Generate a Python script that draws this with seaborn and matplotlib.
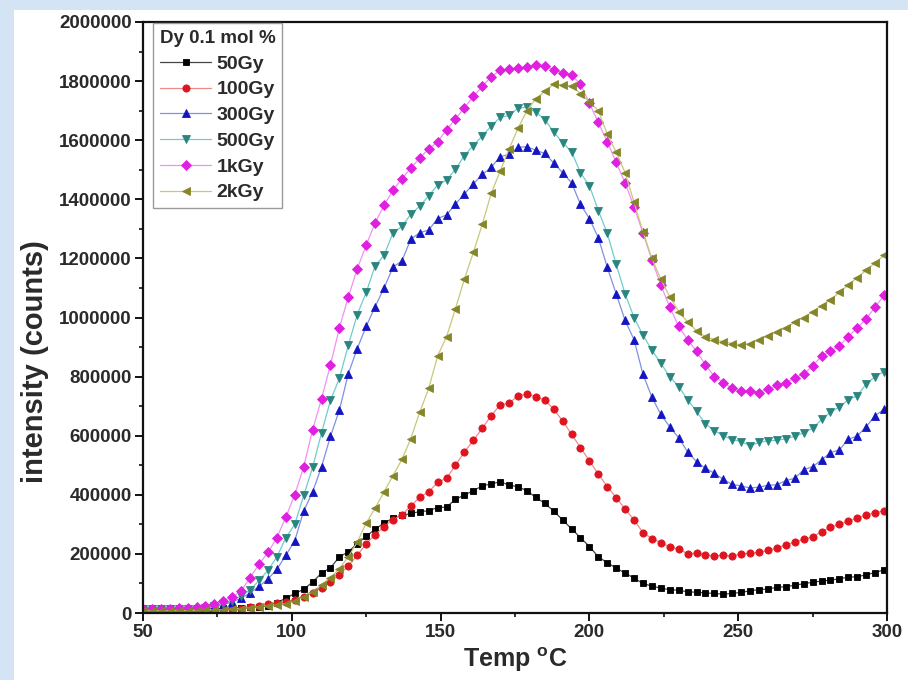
import numpy as np
import pandas as pd
import matplotlib
matplotlib.use('Agg')
import matplotlib.pyplot as plt
from matplotlib.patches import Rectangle
from matplotlib.ticker import MultipleLocator, FuncFormatter
import seaborn as sns

# Temperature grid of the reader (deg C), one reading every 3 degrees
temps = np.arange(50, 300, 3)

# Glow curves, in thousands of counts
gy50 = [17, 17, 17, 17, 16, 16, 15, 15, 15, 16, 17, 18, 19, 20, 25, 35, 50, 66, 80, 105,
        135, 153, 190, 207, 235, 260, 283, 305, 320, 330, 337, 343, 346, 357, 358, 385, 399, 414, 430, 437,
        444, 433, 427, 414, 391, 371, 345, 315, 285, 255, 225, 190, 170, 152, 135, 118, 100, 91, 84, 79,
        77, 72, 70, 68, 66, 64, 66, 70, 75, 79, 81, 87, 89, 94, 99, 104, 108, 111, 116, 121,
        123, 129, 137, 146]
gy100 = [6, 6, 6, 6, 6, 6, 6, 7, 8, 10, 12, 15, 19, 24, 29, 33, 38, 45, 55, 68,
         85, 105, 130, 160, 195, 235, 265, 292, 316, 332, 362, 392, 410, 442, 456, 500, 545, 584, 625, 668,
         704, 710, 735, 741, 732, 720, 690, 650, 605, 560, 515, 470, 428, 390, 352, 315, 272, 252, 238, 224,
         216, 201, 202, 196, 193, 195, 193, 200, 202, 205, 212, 220, 230, 240, 249, 258, 275, 290, 300, 311,
         321, 332, 339, 346]
gy300 = [12, 12, 12, 12, 12, 12, 13, 15, 20, 28, 38, 50, 68, 90, 115, 148, 195, 245, 345, 410,
         495, 598, 687, 810, 895, 970, 1037, 1100, 1170, 1192, 1265, 1287, 1296, 1335, 1347, 1384, 1418, 1452, 1484, 1508,
         1544, 1552, 1576, 1578, 1566, 1555, 1523, 1490, 1456, 1383, 1335, 1270, 1170, 1080, 990, 925, 808, 730, 672, 630,
         593, 545, 512, 490, 473, 452, 435, 430, 423, 426, 432, 434, 448, 456, 485, 495, 518, 543, 552, 588,
         599, 630, 668, 689]
gy500 = [12, 12, 12, 12, 12, 13, 15, 18, 24, 32, 42, 58, 78, 110, 145, 190, 255, 300, 398, 493,
         610, 720, 794, 907, 1010, 1085, 1175, 1210, 1287, 1308, 1350, 1377, 1412, 1448, 1465, 1502, 1548, 1582, 1614, 1648,
         1677, 1684, 1708, 1712, 1695, 1670, 1628, 1592, 1561, 1490, 1446, 1362, 1285, 1180, 1080, 1000, 940, 890, 845, 800,
         766, 722, 682, 640, 617, 600, 587, 580, 566, 577, 583, 584, 590, 598, 610, 625, 655, 680, 697, 722,
         735, 775, 800, 817]
kgy1 = [15, 15, 15, 15, 16, 18, 20, 25, 32, 42, 54, 75, 120, 165, 205, 255, 325, 400, 495, 620,
        725, 840, 965, 1070, 1165, 1245, 1320, 1380, 1430, 1470, 1505, 1540, 1570, 1595, 1635, 1672, 1710, 1748, 1782, 1815,
        1836, 1841, 1844, 1849, 1855, 1852, 1838, 1829, 1820, 1790, 1725, 1660, 1595, 1525, 1455, 1375, 1285, 1195, 1110, 1035,
        970, 925, 885, 840, 800, 780, 760, 752, 752, 746, 758, 770, 780, 795, 810, 835, 870, 885, 905, 935,
        965, 995, 1035, 1075]
kgy2 = [8, 8, 8, 8, 8, 8, 8, 9, 10, 11, 13, 15, 18, 21, 25, 28, 32, 40, 55, 72,
        95, 120, 150, 190, 240, 305, 355, 410, 465, 520, 590, 680, 760, 870, 935, 1030, 1130, 1220, 1315, 1420,
        1495, 1570, 1640, 1700, 1740, 1765, 1790, 1787, 1784, 1758, 1730, 1700, 1620, 1560, 1490, 1390, 1290, 1200, 1130, 1070,
        1020, 985, 955, 935, 925, 918, 912, 908, 912, 925, 938, 950, 965, 985, 1000, 1020, 1040, 1060, 1085, 1110,
        1135, 1160, 1185, 1210]

labels = ['50Gy', '100Gy', '300Gy', '500Gy', '1kGy', '2kGy']
series = [gy50, gy100, gy300, gy500, kgy1, kgy2]

marker_colors = ['#000000', '#e0141e', '#1414c0', '#2a857f', '#e020e0', '#85852a']
line_colors = ['#444444', '#f08a8a', '#8090e0', '#70cccc', '#f290f2', '#c8c87a']
markers = ['s', 'o', '^', 'v', 'D', '<']
msizes = [4.2, 5.2, 5.8, 5.8, 4.8, 5.8]

sns.set_theme(style='ticks')
plt.rcParams['font.family'] = ['Liberation Sans', 'DejaVu Sans']
plt.rcParams['font.weight'] = 'bold'
plt.rcParams['axes.labelweight'] = 'bold'
plt.rcParams['mathtext.fontset'] = 'custom'
plt.rcParams['mathtext.bf'] = 'Liberation Sans:bold'

fig = plt.figure(figsize=(9.08, 6.80), dpi=100)
fig.patch.set_facecolor('#d4e4f4')
fig.patches.append(Rectangle((14 / 908, 0), 894 / 908, 670 / 680, transform=fig.transFigure,
                             facecolor='white', edgecolor='none', zorder=-5))

ax = fig.add_axes([143 / 908, 67 / 680, 744 / 908, 591 / 680])
ax.set_zorder(2)

for vals, lab, mc, lc, mk, ms in zip(series, labels, marker_colors, line_colors, markers, msizes):
    df = pd.DataFrame({'temp': temps, 'counts': np.array(vals) * 1000})
    sns.lineplot(data=df, x='temp', y='counts', ax=ax, label=lab, color=lc, lw=0.9,
                 marker=mk, markersize=ms, markerfacecolor=mc, markeredgecolor=mc,
                 markeredgewidth=0.6)

ax.set_xlim(50, 300)
ax.set_ylim(0, 2000000)
ax.xaxis.set_major_locator(MultipleLocator(50))
ax.xaxis.set_minor_locator(MultipleLocator(25))
ax.yaxis.set_major_locator(MultipleLocator(200000))
ax.yaxis.set_minor_locator(MultipleLocator(100000))
ax.yaxis.set_major_formatter(FuncFormatter(lambda v, p: '%d' % v))

for sp in ax.spines.values():
    sp.set_color('#111111')
    sp.set_linewidth(1.6)
ax.tick_params(which='major', direction='out', length=6, width=1.4, colors='#111111',
               labelsize=13.5, labelcolor='#2a2a2a', pad=2)
ax.tick_params(which='minor', direction='out', length=3, width=1.2, colors='#111111')
for t in ax.get_xticklabels() + ax.get_yticklabels():
    t.set_fontweight('bold')

ax.set_xlabel(r'Temp $^{\mathbf{o}}$C', fontsize=18, fontweight='bold', color='#2a2a2a', labelpad=3)
ax.set_ylabel('intensity (counts)', fontsize=21, fontweight='bold', color='#2a2a2a')
# label sits a bit below the middle of the axis in the original
ax.yaxis.set_label_coords(-0.127, 0.425)

leg = ax.legend(loc='upper left', bbox_to_anchor=(10 / 744, 1 - 1 / 591), borderaxespad=0,
                title='Dy 0.1 mol %', fontsize=14, title_fontsize=13.5, handlelength=2.6,
                handletextpad=0.3, labelspacing=0.42, frameon=True, fancybox=False,
                framealpha=1, borderpad=0.35)
leg.get_frame().set_edgecolor('#9a9a9a')
leg.get_frame().set_linewidth(1.0)
leg.get_title().set_fontweight('bold')
leg.get_title().set_color('#2a2a2a')
for t in leg.get_texts():
    t.set_fontweight('bold')
    t.set_color('#2a2a2a')

fig.savefig('out.png', dpi=100, facecolor=fig.get_facecolor())
